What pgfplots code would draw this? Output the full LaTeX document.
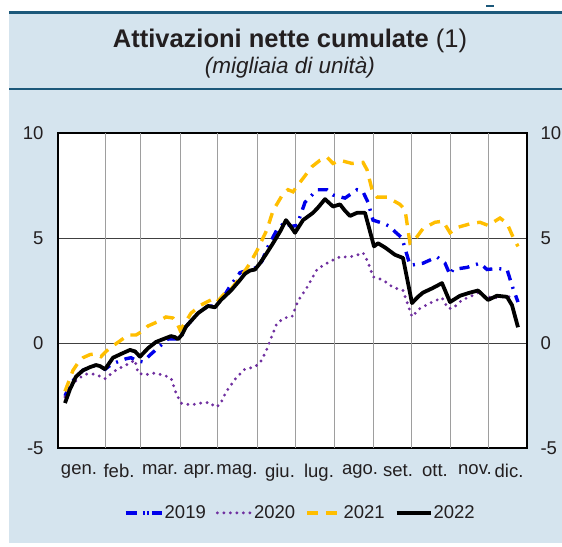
\documentclass[border=0pt]{standalone}
\usepackage{fontspec}
\setmainfont{Liberation Sans}
\usepackage{pgfplots}
\pgfplotsset{compat=1.18}
\definecolor{bgblue}{RGB}{213,228,238}
\definecolor{topblue}{RGB}{28,88,122}
\definecolor{c2019}{RGB}{0,0,235}
\definecolor{c2020}{RGB}{112,48,160}
\definecolor{c2021}{RGB}{255,190,0}
\definecolor{txt}{RGB}{35,31,32}
\pgfplotsset{
  legshort/.style={legend image code/.code={\draw[##1, solid] (0pt,0pt) -- (11pt,0pt); \draw[##1, solid] (21pt,0pt) -- (23.5pt,0pt); \path (0pt,0pt) -- (36pt,0pt);}},
  leglong/.style={legend image code/.code={\draw[##1] (0pt,0pt) -- (34pt,0pt);}},
}
\begin{document}
\begin{tikzpicture}
\useasboundingbox (0pt,0pt) rectangle (562pt,-546pt);
\fill[bgblue] (9pt,-12pt) rectangle (562pt,-543pt);
\draw[topblue,line width=3pt] (9pt,-12pt) -- (562pt,-12pt);
\draw[topblue,line width=1.8pt] (9pt,-89pt) -- (562pt,-89pt);
\draw[topblue,line width=1.2pt] (486pt,-6pt) -- (494pt,-6pt);
\node[font=\fontsize{25.5}{29}\selectfont, anchor=base, text=txt, inner sep=0pt] at (290pt,-47pt) {\textbf{Attivazioni nette cumulate} (1)};
\node[font=\fontsize{22.5}{26}\selectfont\itshape, anchor=base, text=txt, inner sep=0pt] at (290pt,-73pt) {(migliaia di unità)};

\begin{axis}[
  at={(58pt,-448pt)}, anchor=south west,
  scale only axis, width=469pt, height=315pt,
  xmin=58, xmax=527, ymin=-5, ymax=10,
  axis background/.style={fill=white},
  xtick={79,119,160,199,237,280,319,360,398,435,475,509},
  xticklabels={gen.,feb.,mar.,apr.,mag.,giu.,lug.,ago.,set.,ott.,nov.,dic.},
  major tick length=0pt,
  extra x ticks={105,140,180,217,257,295,334,373,411,450,488},
  extra x tick labels={},
  extra x tick style={grid=major, major grid style={color=black!38, line width=0.8pt}},
  ytick={-5,0,5,10}, yticklabels={-5,0,5,10},
  ymajorgrids, major grid style={color=black!75, line width=0.8pt},
  axis line style={line width=1.3pt, black},
  tick label style={font=\fontsize{18.5}{20}\selectfont, text=txt},
  xticklabel style={yshift=-13pt},
  yticklabel style={xshift=-11pt},
  legend columns=4,
  legend style={draw=none, fill=none, at={(axis description cs:0.516,-0.206)}, anchor=center,
    font=\fontsize{18.5}{20}\selectfont, text=txt,
    nodes={inner xsep=1pt},
    /tikz/every even column/.append style={column sep=9pt}},
]
\addplot[c2019, line width=3.4pt, dash pattern=on 10pt off 7pt on 2pt off 7pt, legshort]
coordinates {(65,-2.52)(70,-2.0)(76,-1.6)(83,-1.3)(90,-1.15)(96,-1.05)(100,-1.1)(105,-1.25)(112,-1.0)(120,-0.85)(126,-0.75)(131,-0.7)(137,-0.85)(143,-0.9)(150,-0.57)(159,-0.19)(168,0.19)(176,0.19)(180,0.2)(186,0.78)(192,1.1)(198,1.42)(208,1.76)(215,1.75)(223,2.15)(230,2.7)(240,3.35)(250,3.5)(257,3.6)(262,3.9)(267,4.5)(277,5.4)(285,5.75)(291,5.55)(297,5.6)(305,6.7)(311,7.0)(317,7.3)(327,7.3)(333,7.05)(345,6.9)(357,7.3)(363,7.2)(368,6.7)(373,5.85)(383,5.7)(390,5.55)(395,5.3)(402,5.0)(410,3.7)(423,3.8)(437,4.1)(445,3.8)(450,3.25)(453,3.5)(467,3.6)(480,3.8)(487,3.5)(497,3.55)(507,3.5)(513,2.6)(518,1.95)};
\addlegendentry{2019}
\addplot[c2020, line width=3.2pt, line cap=round, dash pattern=on 0pt off 6.5pt, leglong]
coordinates {(65,-2.57)(70,-2.1)(78,-1.7)(86,-1.48)(95,-1.48)(105,-1.7)(116,-1.29)(128,-1.0)(135,-0.81)(138,-1.43)(145,-1.52)(153,-1.43)(163,-1.52)(171,-1.67)(176,-2.38)(181,-2.86)(191,-2.95)(201,-2.86)(210,-2.83)(215,-3.05)(220,-2.95)(226,-2.33)(236,-1.67)(245,-1.24)(255,-1.14)(261,-0.86)(266,-0.4)(270,0.1)(277,0.95)(285,1.2)(292,1.25)(298,2.0)(307,2.65)(317,3.5)(325,3.75)(333,3.95)(340,4.1)(350,4.1)(358,4.2)(363,4.3)(368,3.85)(373,3.15)(383,3.0)(393,2.65)(403,2.5)(408,1.8)(412,1.25)(420,1.65)(430,1.9)(442,2.15)(448,1.65)(453,1.65)(462,2.05)(470,2.2)(478,2.4)(487,2.2)(493,2.15)(503,2.2)(510,2.2)};
\addlegendentry{2020}
\addplot[c2021, line width=3.4pt, dash pattern=on 11pt off 8pt, leglong]
coordinates {(65,-2.3)(69,-1.8)(73,-1.3)(78,-0.95)(83,-0.7)(90,-0.55)(95,-0.52)(101,-0.65)(106,-0.4)(111,-0.2)(120,0.1)(128,0.38)(136,0.38)(142,0.55)(148,0.81)(157,1.0)(166,1.24)(173,1.19)(177,0.95)(180,0.62)(185,0.95)(191,1.42)(201,1.81)(211,2.05)(216,1.9)(225,2.38)(230,2.5)(243,3.3)(250,3.8)(257,4.4)(267,5.4)(273,6.3)(283,7.1)(288,7.3)(293,7.2)(300,7.65)(312,8.4)(320,8.7)(327,8.85)(333,8.55)(340,8.7)(352,8.55)(363,8.6)(367,8.25)(372,7.3)(377,6.95)(387,6.95)(400,6.6)(405,6.35)(410,4.75)(413,4.8)(423,5.45)(435,5.75)(443,5.8)(450,5.25)(457,5.5)(472,5.7)(480,5.75)(488,5.6)(500,5.95)(507,5.7)(513,5.05)(518,4.6)};
\addlegendentry{2021}
\addplot[black, line width=3.8pt, line join=round, leglong]
coordinates {(65,-2.86)(70,-2.2)(76,-1.6)(83,-1.3)(90,-1.15)(96,-1.05)(100,-1.1)(105,-1.25)(113,-0.7)(122,-0.5)(130,-0.33)(135,-0.4)(140,-0.65)(148,-0.25)(156,0.05)(164,0.2)(171,0.33)(175,0.28)(178,0.18)(182,0.4)(186,0.78)(192,1.1)(198,1.42)(208,1.76)(215,1.7)(221,2.05)(231,2.5)(240,3.0)(245,3.3)(250,3.45)(255,3.5)(260,3.8)(267,4.3)(273,4.75)(280,5.3)(286,5.85)(290,5.6)(295,5.25)(303,5.85)(313,6.2)(318,6.45)(325,6.85)(333,6.5)(340,6.6)(345,6.3)(350,6.05)(357,6.2)(365,6.2)(374,4.6)(378,4.75)(385,4.55)(395,4.2)(403,4.05)(412,1.9)(418,2.2)(423,2.4)(432,2.6)(442,2.85)(450,1.95)(460,2.25)(470,2.4)(478,2.5)(488,2.05)(497,2.25)(507,2.2)(512,1.8)(518,0.75)};
\addlegendentry{2022}
\end{axis}

\begin{axis}[
  at={(58pt,-448pt)}, anchor=south west,
  scale only axis, width=469pt, height=315pt,
  xmin=58, xmax=527, ymin=-5, ymax=10,
  axis y line*=right, axis x line=none,
  axis line style={draw=none},
  ytick={-5,0,5,10}, yticklabels={-5,0,5,10},
  major tick length=0pt,
  tick label style={font=\fontsize{18.5}{20}\selectfont, text=txt},
  yticklabel style={xshift=10pt},
]
\addplot[draw=none] coordinates {(58,0)};
\end{axis}
\end{tikzpicture}
\end{document}
